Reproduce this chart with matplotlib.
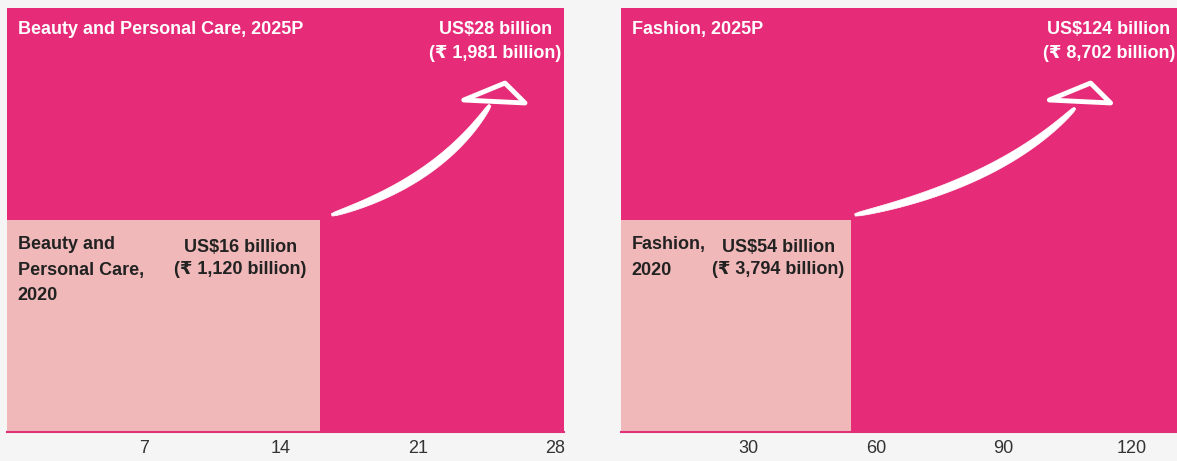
import numpy as np
import matplotlib
matplotlib.use('Agg')
import matplotlib.pyplot as plt
from matplotlib.patches import Polygon

plt.rcParams['font.family'] = ['Liberation Sans', 'DejaVu Sans']

# data
segments = ['Beauty and Personal Care', 'Fashion']
usd_2020 = [16, 54]
usd_2025 = [28, 124]
inr_2020 = ['1,120', '3,794']
inr_2025 = ['1,981', '8,702']
ticks = [[7, 14, 21, 28], [30, 60, 90, 120]]
xmax = [28.45, 131]
label_2020 = ['Beauty and\nPersonal Care,\n2020', 'Fashion,\n2020']
label_offset = [-14, -6]

PINK = '#E62B78'
LIGHT = '#F0B8B8'

fig = plt.figure(figsize=(11.77, 4.61), dpi=100)
fig.patch.set_facecolor('#F5F5F5')

axes = [fig.add_axes([7 / 1177, 29 / 461, 557 / 1177, 424 / 461]),
        fig.add_axes([621 / 1177, 29 / 461, 557 / 1177, 424 / 461])]

# arrow shapes in axes fraction (start, control, end, head)
arrows = [
    [(0.583, 0.512), (0.777, 0.590), (0.867, 0.771),
     [(0.820, 0.783), (0.894, 0.823), (0.930, 0.776)]],
    [(0.420, 0.512), (0.680, 0.585), (0.815, 0.764),
     [(0.769, 0.783), (0.843, 0.823), (0.879, 0.776)]],
]

for i, ax in enumerate(axes):
    ax.set_facecolor(PINK)
    ax.barh(0, usd_2025[i], height=1, left=0, align='edge', color=PINK, zorder=1)
    ax.barh(0, usd_2020[i], height=0.5, left=0, align='edge', color=LIGHT, zorder=2)
    ax.set_xlim(0, xmax[i])
    ax.set_ylim(0, 1)
    ax.set_yticks([])
    ax.set_xticks(ticks[i])
    ax.tick_params(axis='x', length=0, pad=6, labelsize=13, labelcolor='#333333')
    for s in ['top', 'left', 'right']:
        ax.spines[s].set_visible(False)
    ax.spines['bottom'].set_color('#E0307A')
    ax.spines['bottom'].set_linewidth(1.5)

    # 2025 labels
    ax.text(0.019, 0.950, segments[i] + ', 2025P', transform=ax.transAxes,
            color='white', fontsize=13, fontweight='bold', ha='left', va='center')
    ax.text(0.995, 0.921, 'US$%d billion\n(\u20b9 %s billion)' % (usd_2025[i], inr_2025[i]),
            transform=ax.transAxes, color='white', fontsize=13, fontweight='bold',
            ha='right', va='center', multialignment='center', linespacing=1.6)

    # 2020 labels
    ax.text(0.019, 0.462, label_2020[i], transform=ax.transAxes, color='#222222',
            fontsize=13, fontweight='bold', ha='left', va='top', linespacing=1.66)
    ax.annotate('US$%d billion\n(\u20b9 %s billion)' % (usd_2020[i], inr_2020[i]),
                xy=(usd_2020[i], 0.41), xytext=(label_offset[i] * 0.72, 0),
                textcoords='offset points', color='#222222', fontsize=13,
                fontweight='bold', ha='right', va='center',
                multialignment='center', linespacing=1.4, zorder=3)

    # hand-drawn style arrow
    p0, c, p1, head = arrows[i]
    t = np.linspace(0, 1, 60)
    p0, c, p1 = np.array(p0), np.array(c), np.array(p1)
    pts = ((1 - t)[:, None] ** 2) * p0 + (2 * (1 - t) * t)[:, None] * c + (t[:, None] ** 2) * p1
    d = np.gradient(pts, axis=0)
    asp = np.array([557.0, 424.0])
    dp = d * asp
    n = np.stack([-dp[:, 1], dp[:, 0]], axis=1)
    n = n / np.linalg.norm(n, axis=1)[:, None]
    w = 1.2 + 3.3 * np.sin(np.pi * t) ** 0.5
    left = pts + n * w[:, None] / asp
    right = pts - n * w[:, None] / asp
    poly = np.vstack([left, right[::-1]])
    ax.add_patch(Polygon(poly, closed=True, transform=ax.transAxes,
                         facecolor='white', edgecolor='white', lw=0.5, zorder=4))
    ax.add_patch(Polygon(head, closed=True, transform=ax.transAxes, fill=False,
                         edgecolor='white', lw=3.5, joinstyle='round', zorder=4))

fig.savefig('out.png', dpi=100, facecolor=fig.get_facecolor())
